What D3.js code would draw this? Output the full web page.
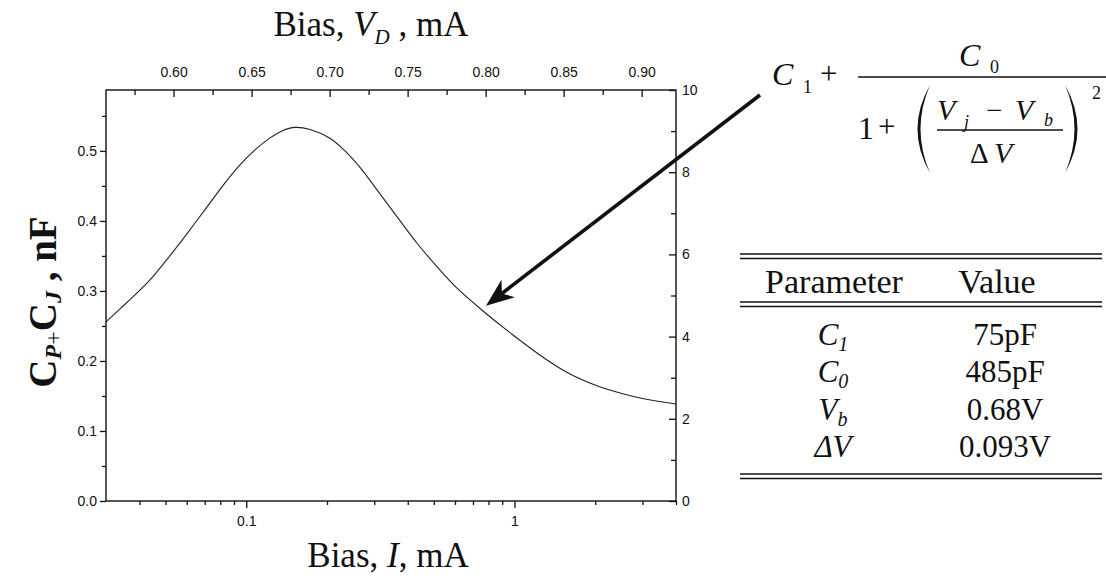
<!DOCTYPE html>
<html>
<head>
<meta charset="utf-8">
<script src="https://cdn.jsdelivr.net/npm/d3@7"></script>
<style>
  body { margin: 0; background: #fff; }
  .tick text { font-family: "Liberation Sans", Arial, sans-serif; font-size: 14px; fill: #111; }
  .tick line { stroke: #111; stroke-width: 1.3; }
  .serif { font-family: "Liberation Serif", "Times New Roman", serif; fill: #111; }
</style>
</head>
<body>
<svg id="chart" width="1106" height="581"></svg>
<script>
// Measured junction capacitance versus bias current
const biasCurrent = [0.0300, 0.03383, 0.03847, 0.04377, 0.04977, 0.05662, 0.06440, 0.07326, 0.08333, 0.09476,
                     0.1078, 0.1226, 0.1359, 0.1520, 0.1729, 0.2051, 0.2334, 0.2655, 0.3073, 0.3646,
                     0.4331, 0.5142, 0.6106, 0.7630, 0.9872, 1.322, 1.610, 1.996, 2.474, 3.065, 4.0];
const capacitance = [0.2557, 0.2743, 0.2943, 0.3157, 0.3414, 0.3686, 0.3971, 0.4257, 0.4543, 0.4800,
                     0.5014, 0.5186, 0.5286, 0.5336, 0.5307, 0.5181, 0.5000, 0.4764, 0.4443, 0.4061,
                     0.3681, 0.3347, 0.3039, 0.2714, 0.2371, 0.2014, 0.1814, 0.1657, 0.1543, 0.1457, 0.1386];

// Axis ticks
const leftTicks = [0.0, 0.1, 0.2, 0.3, 0.4, 0.5];
const leftMinorTicks = [0.05, 0.15, 0.25, 0.35, 0.45, 0.55];
const bottomTicks = [0.1, 1];
const bottomTickLabels = ["0.1", "1"];
const bottomMinorTicks = [0.04, 0.05, 0.06, 0.07, 0.08, 0.09, 0.2, 0.3, 0.4, 0.5, 0.6, 0.7, 0.8, 0.9, 2, 3, 4];
const topTicks = [0.60, 0.65, 0.70, 0.75, 0.80, 0.85, 0.90];
const topMinorTicks = [0.575, 0.625, 0.675, 0.725, 0.775, 0.825, 0.875];
const rightTicks = [0, 2, 4, 6, 8, 10];
const rightMinorTicks = [1, 3, 5, 7, 9];

// Fit parameters table
const paramSymbols = ["C", "C", "V", "ΔV"];
const paramSubscripts = ["1", "0", "b", ""];
const paramValues = ["75pF", "485pF", "0.68V", "0.093V"];

const svg = d3.select("#chart");
const plot = { left: 106, right: 676, top: 90, bottom: 501 };

const x = d3.scaleLog().domain([0.03, 4]).range([plot.left, plot.right]);
const y = d3.scaleLinear().domain([0, 0.587]).range([plot.bottom, plot.top]);
const xTop = d3.scaleLinear().domain([0.5567, 0.922]).range([plot.left, plot.right]);
const yRight = d3.scaleLinear().domain([0, 10]).range([plot.bottom, plot.top]);

function styleAxis(g) {
  g.select(".domain").remove();
}

// Left axis
svg.append("g").attr("transform", `translate(${plot.left},0)`)
  .call(d3.axisLeft(y).tickValues(leftTicks).tickFormat(d3.format(".1f")).tickSize(6).tickPadding(3))
  .call(styleAxis);
svg.append("g").attr("transform", `translate(${plot.left},0)`)
  .call(d3.axisLeft(y).tickValues(leftMinorTicks).tickFormat("").tickSize(4))
  .call(styleAxis);

// Bottom log axis
svg.append("g").attr("transform", `translate(0,${plot.bottom})`)
  .call(d3.axisBottom(x).tickValues(bottomTicks).tickFormat((d, i) => bottomTickLabels[i]).tickSize(7).tickPadding(8))
  .call(styleAxis);
svg.append("g").attr("transform", `translate(0,${plot.bottom})`)
  .call(d3.axisBottom(x).tickValues(bottomMinorTicks).tickFormat("").tickSize(4))
  .call(styleAxis);

// Top voltage axis (ticks inward)
svg.append("g").attr("transform", `translate(0,${plot.top})`)
  .call(d3.axisTop(xTop).tickValues(topTicks).tickFormat(d3.format(".2f")).tickSizeInner(-7).tickSizeOuter(0).tickPadding(13))
  .call(styleAxis);
svg.append("g").attr("transform", `translate(0,${plot.top})`)
  .call(d3.axisTop(xTop).tickValues(topMinorTicks).tickFormat("").tickSizeInner(-5).tickSizeOuter(0))
  .call(styleAxis);

// Right axis (ticks inward)
svg.append("g").attr("transform", `translate(${plot.right},0)`)
  .call(d3.axisRight(yRight).tickValues(rightTicks).tickFormat(d3.format("d")).tickSizeInner(-7).tickSizeOuter(0).tickPadding(6))
  .call(styleAxis);
svg.append("g").attr("transform", `translate(${plot.right},0)`)
  .call(d3.axisRight(yRight).tickValues(rightMinorTicks).tickFormat("").tickSizeInner(-5).tickSizeOuter(0))
  .call(styleAxis);

// Frame
svg.append("rect")
  .attr("x", plot.left).attr("y", plot.top)
  .attr("width", plot.right - plot.left).attr("height", plot.bottom - plot.top)
  .attr("fill", "none").attr("stroke", "#111").attr("stroke-width", 1.4);

// Capacitance curve
const pts = biasCurrent.map((d, i) => [d, capacitance[i]]);
svg.append("path")
  .datum(pts)
  .attr("fill", "none").attr("stroke", "#222").attr("stroke-width", 1.1)
  .attr("d", d3.line().x(d => x(d[0])).y(d => y(d[1])).curve(d3.curveCatmullRom.alpha(0.5)));

// Axis titles
const topTitle = svg.append("text").attr("class", "serif")
  .attr("x", 371).attr("y", 36).attr("text-anchor", "middle").attr("font-size", 35);
topTitle.append("tspan").text("Bias, ");
topTitle.append("tspan").attr("font-style", "italic").text("V");
topTitle.append("tspan").attr("font-style", "italic").attr("font-size", 21).attr("dy", 8).text("D");
topTitle.append("tspan").attr("dy", -8).text(" , mA");

const bottomTitle = svg.append("text").attr("class", "serif")
  .attr("x", 388).attr("y", 567).attr("text-anchor", "middle").attr("font-size", 35);
bottomTitle.append("tspan").text("Bias, ");
bottomTitle.append("tspan").attr("font-style", "italic").text("I");
bottomTitle.append("tspan").text(", mA");

const leftTitle = svg.append("text").attr("class", "serif")
  .attr("transform", "translate(56,302) rotate(-90)")
  .attr("text-anchor", "middle").attr("font-size", 39).attr("font-weight", "bold");
leftTitle.append("tspan").text("C");
leftTitle.append("tspan").attr("font-style", "italic").attr("font-size", 24).attr("dy", 5).text("P");
leftTitle.append("tspan").attr("font-size", 24).attr("font-weight", "normal").text("+");
leftTitle.append("tspan").attr("dy", -5).text("C");
leftTitle.append("tspan").attr("font-style", "italic").attr("font-size", 24).attr("dy", 5).text("J");
leftTitle.append("tspan").attr("dy", -5).text(" , nF");

// Lorentzian fit formula
const f = svg.append("g").attr("class", "formula");
function ftext(xp, yp, str, size, italic) {
  f.append("text").attr("class", "serif").attr("x", xp).attr("y", yp)
    .attr("font-size", size).attr("font-style", italic ? "italic" : "normal").text(str);
}
ftext(772, 85, "C", 32, true);
ftext(803, 93, "1", 18, false);
ftext(820, 84, "+", 31, false);
f.append("line").attr("x1", 858).attr("x2", 1106).attr("y1", 77).attr("y2", 77).attr("stroke", "#111").attr("stroke-width", 1.5);
ftext(959, 66, "C", 32, true);
ftext(990, 73, "0", 18, false);
ftext(858, 139, "1", 32, false);
ftext(878, 137, "+", 31, false);
f.append("path").attr("fill", "#111")
  .attr("d", "M930,85 Q905,129 930,173 Q911,129 930,85Z");
f.append("path").attr("fill", "#111")
  .attr("d", "M1065,85 Q1090,129 1065,173 Q1084,129 1065,85Z");
ftext(937, 120, "V", 30, true);
ftext(964, 128, "j", 18, true);
ftext(986, 120, "−", 29, false);
ftext(1015, 120, "V", 30, true);
ftext(1044, 126, "b", 18, true);
f.append("line").attr("x1", 937).attr("x2", 1063).attr("y1", 130).attr("y2", 130).attr("stroke", "#111").attr("stroke-width", 1.3);
ftext(970, 163, "Δ", 29, false);
ftext(994, 163, "V", 30, true);
ftext(1092, 99, "2", 18, false);

// Arrow from the formula down to the curve
const tip = [x(0.783), y(0.279)];
const start = [760, 95];
const ang = Math.atan2(start[1] - tip[1], start[0] - tip[0]);
const headLen = 28, headW = 11, notch = 20;
const ux = Math.cos(ang), uy = Math.sin(ang);
const base = [tip[0] + ux * headLen, tip[1] + uy * headLen];
const inner = [tip[0] + ux * notch, tip[1] + uy * notch];
svg.append("line")
  .attr("x1", start[0]).attr("y1", start[1]).attr("x2", inner[0]).attr("y2", inner[1])
  .attr("stroke", "#111").attr("stroke-width", 3.6);
svg.append("path").attr("fill", "#111")
  .attr("d", `M${tip[0]},${tip[1]} L${base[0] - uy * headW},${base[1] + ux * headW} L${inner[0]},${inner[1]} L${base[0] + uy * headW},${base[1] - ux * headW}Z`);

// Parameter table
const tbl = svg.append("g");
const tx0 = 740, tx1 = 1102;
function dbl(yp) {
  tbl.append("line").attr("x1", tx0).attr("x2", tx1).attr("y1", yp).attr("y2", yp).attr("stroke", "#111").attr("stroke-width", 1.5);
  tbl.append("line").attr("x1", tx0).attr("x2", tx1).attr("y1", yp + 4.5).attr("y2", yp + 4.5).attr("stroke", "#111").attr("stroke-width", 1.5);
}
dbl(254);
dbl(302);
dbl(474);
tbl.append("text").attr("class", "serif").attr("x", 834).attr("y", 293).attr("text-anchor", "middle").attr("font-size", 34).text("Parameter");
tbl.append("text").attr("class", "serif").attr("x", 997).attr("y", 293).attr("text-anchor", "middle").attr("font-size", 34).text("Value");
const rowY = d3.scalePoint().domain(d3.range(paramSymbols.length)).range([345, 457]);
paramSymbols.forEach((s, i) => {
  const t = tbl.append("text").attr("class", "serif").attr("x", 833).attr("y", rowY(i))
    .attr("text-anchor", "middle").attr("font-size", 31).attr("font-style", "italic");
  t.append("tspan").text(s);
  if (paramSubscripts[i]) t.append("tspan").attr("font-size", 20).attr("dy", 6).text(paramSubscripts[i]);
  tbl.append("text").attr("class", "serif").attr("x", 1005).attr("y", rowY(i))
    .attr("text-anchor", "middle").attr("font-size", 31).text(paramValues[i]);
});
</script>
</body>
</html>
